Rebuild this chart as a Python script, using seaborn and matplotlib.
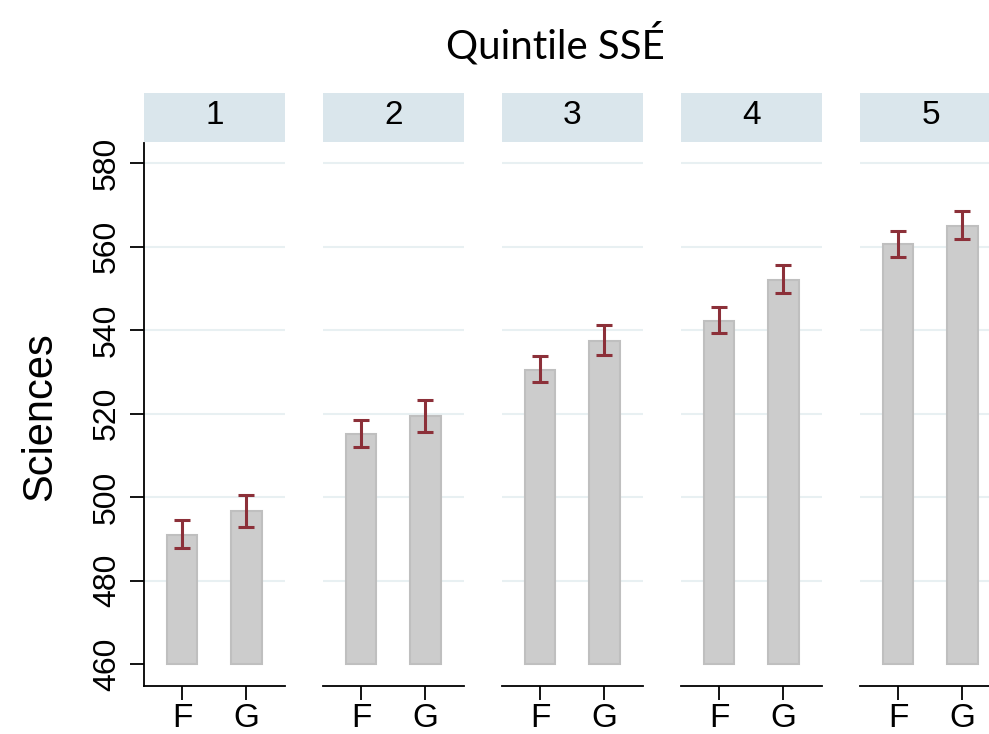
import numpy as np
import pandas as pd
import matplotlib.pyplot as plt
import seaborn as sns

# Données
quintiles = ["1", "2", "3", "4", "5"]
groups = ["F", "G"]
mean_F = [491.0, 515.2, 530.5, 542.2, 560.6]
mean_G = [496.6, 519.4, 537.5, 552.1, 565.0]
low_F = [487.9, 512.0, 527.5, 539.3, 557.6]
high_F = [494.6, 518.4, 533.7, 545.5, 563.8]
low_G = [492.8, 515.7, 534.1, 549.0, 561.9]
high_G = [500.6, 523.2, 541.2, 555.7, 568.6]
y_ticks = [460, 480, 500, 520, 540, 560, 580]
base = 460

rows = []
for i, q in enumerate(quintiles):
    rows.append((q, "F", mean_F[i], low_F[i], high_F[i]))
    rows.append((q, "G", mean_G[i], low_G[i], high_G[i]))
df = pd.DataFrame(rows, columns=["quintile", "groupe", "moyenne", "bas", "haut"])
df["hauteur"] = df["moyenne"] - base

sns.set_style("white")
plt.rcParams["font.family"] = ["Liberation Sans", "DejaVu Sans"]
plt.rcParams["text.color"] = "black"
plt.rcParams["xtick.labelcolor"] = "black"
plt.rcParams["ytick.labelcolor"] = "black"

W, H = 989, 734
fig = plt.figure(figsize=(W / 100, H / 100), dpi=100)

bar_col = "#cccccc"
err_col = "#8c3039"
grid_col = "#e8f0f2"
strip_col = "#dae6ec"

ax_left, ax_w, step = 144 / W, 141 / W, 179 / W
ax_bot, ax_h = 1 - 686 / H, (686 - 143) / H

for i, q in enumerate(quintiles):
    ax = fig.add_axes([ax_left + i * step, ax_bot, ax_w, ax_h])
    sub = df[df["quintile"] == q]
    for t in y_ticks[1:]:
        ax.axhline(t, color=grid_col, lw=1.5, zorder=0)
    sns.barplot(data=sub, x="groupe", y="hauteur", bottom=base, ax=ax,
                color=bar_col, edgecolor="#bfbfbf", linewidth=1.5,
                width=0.48, errorbar=None, saturation=1, zorder=2)
    xs = np.arange(len(sub))
    ax.errorbar(xs, sub["moyenne"],
                yerr=[sub["moyenne"] - sub["bas"], sub["haut"] - sub["moyenne"]],
                fmt="none", ecolor=err_col, elinewidth=2.2, capsize=6, capthick=2.2,
                zorder=3)
    ax.set_xlim(-0.59, 1.6)
    ax.set_ylim(454.8, 584.8)
    ax.set_xlabel("")
    ax.set_ylabel("")
    ax.set_yticks(y_ticks)
    for s in ["top", "right"]:
        ax.spines[s].set_visible(False)
    ax.spines["bottom"].set_linewidth(1.3)
    ax.spines["bottom"].set_color("black")
    ax.tick_params(axis="x", length=10, width=1.3, color="black",
                   labelsize=24, pad=2, bottom=True)
    if i == 0:
        ax.spines["left"].set_linewidth(1.3)
        ax.spines["left"].set_color("black")
        ax.tick_params(axis="y", length=10, width=1.3, color="black",
                       labelsize=23, pad=6, left=True, labelrotation=90)
        for lab in ax.get_yticklabels():
            lab.set_va("center")
    else:
        ax.spines["left"].set_visible(False)
        ax.tick_params(axis="y", left=False, labelleft=False)

    # bandeau du panneau
    sax = fig.add_axes([ax_left + i * step, 1 - 142 / H, ax_w, 49 / H])
    sax.set_facecolor(strip_col)
    for s in sax.spines.values():
        s.set_visible(False)
    sax.set_xticks([])
    sax.set_yticks([])
    sax.text(0.5, 0.54, q, ha="center", va="center", fontsize=24,
             transform=sax.transAxes)

fig.text(40 / W, 1 - 417 / H, "Sciences", rotation=90, ha="center",
         va="center", fontsize=30)
fig.text(555 / W, 1 - 44 / H, "Quintile SSÉ", ha="center", va="center",
         fontsize=29, family=["Lato", "DejaVu Sans"])

fig.savefig("out.png", dpi=100)
